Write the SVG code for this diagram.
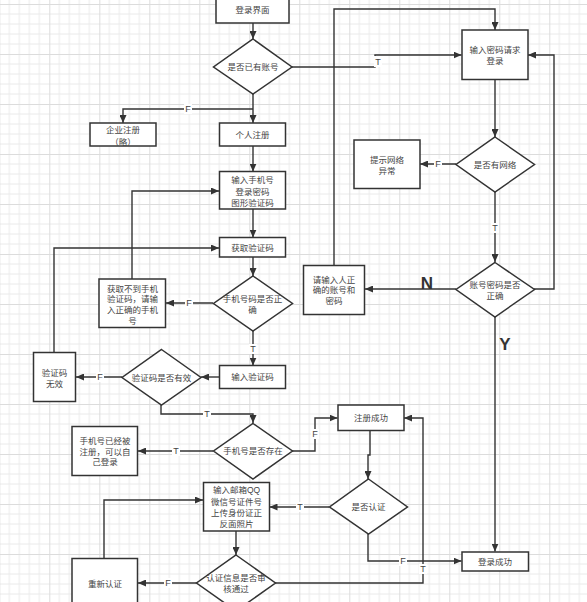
<svg xmlns="http://www.w3.org/2000/svg" width="587" height="602" viewBox="0 0 587 602">
<style>
.n{fill:#fff;stroke:#333;stroke-width:1.5}
.t{font-family:"Liberation Sans","Noto Sans CJK SC",sans-serif;font-size:8.5px;fill:#444;text-anchor:middle;dominant-baseline:central}
.c{fill:none;stroke:#333;stroke-width:1.4}
.a{marker-end:url(#ah)}
.lb{fill:#fff}
.l{font-family:"Liberation Sans","Noto Sans CJK SC",sans-serif;font-size:9px;fill:#444;text-anchor:middle;dominant-baseline:central}
.big{font-family:"Liberation Sans",Arial,sans-serif;font-size:17px;font-weight:bold;fill:#333;text-anchor:middle;dominant-baseline:central}
</style>
<defs>
<pattern id="g" width="50" height="50" patternUnits="userSpaceOnUse" x="-0.7" y="4">
<path d="M10 0V50M20 0V50M30 0V50M40 0V50M0 10H50M0 20H50M0 30H50M0 40H50" stroke="#eaeaea" stroke-width="1" fill="none"/>
<path d="M0.5 0V50M0 0.5H50" stroke="#dcdcdc" stroke-width="1" fill="none"/>
</pattern>
<marker id="ah" viewBox="0 0 8 7" refX="8" refY="3.5" markerWidth="8" markerHeight="7" markerUnits="userSpaceOnUse" orient="auto">
<path d="M0,0L8,3.5L0,7z" fill="#333"/>
</marker>
</defs>
<rect width="587" height="602" fill="#fff"/>
<rect width="587" height="602" fill="url(#g)"/>
<g id="connectors">
<path class="c a" d="M253 23V39"/>
<path class="c a" d="M253 94V123"/>
<path class="c a" d="M253 109H123V123"/>
<path class="c a" d="M292 67H375V55H461.5"/>
<path class="c a" d="M334 265V9H495V30"/>
<path class="c a" d="M495 79V137"/>
<path class="c a" d="M456 164H420"/>
<path class="c a" d="M495 192V262"/>
<path class="c a" d="M456 289H365"/>
<path class="c a" d="M534 289H554V55H528"/>
<path class="c a" d="M495 317V551.5"/>
<path class="c a" d="M253 146V171.5"/>
<path class="c a" d="M253 209V237.5"/>
<path class="c a" d="M132 279V191H219"/>
<path class="c a" d="M253 257V276"/>
<path class="c a" d="M213 303H166"/>
<path class="c a" d="M253 331V365.5"/>
<path class="c a" d="M54 353V248H219"/>
<path class="c a" d="M219 377H201"/>
<path class="c a" d="M122 377H76"/>
<path class="c a" d="M161 405V414H253V423"/>
<path class="c a" d="M213 451H138"/>
<path class="c a" d="M292 451H315V418H337.5"/>
<path class="c a" d="M370 430V455H368V479"/>
<path class="c a" d="M329 507H269.5"/>
<path class="c a" d="M368 534V561H461.5"/>
<path class="c a" d="M236 531V555"/>
<path class="c a" d="M197 583H138"/>
<path class="c a" d="M275 583H423V418H404"/>
<path class="c a" d="M104 558V500H203"/>
</g>
<g id="n-login-ui"><rect class="n" x="216" y="-10" width="73" height="33"/><text class="t" x="252.5" y="9.5">登录界面</text></g>
<g id="n-has-account"><path class="n" d="M253 39L292 67L253 94L213.5 67Z"/><text class="t" x="253" y="67">是否已有账号</text></g>
<g id="n-corp"><rect class="n" x="90" y="123" width="66" height="23"/><text class="t" x="123" y="129.5">企业注册</text><text class="t" x="123" y="141.5">（略）</text></g>
<g id="n-personal"><rect class="n" x="219.5" y="123" width="66" height="23"/><text class="t" x="252.5" y="135">个人注册</text></g>
<g id="n-input-phone"><rect class="n" x="219.5" y="171.5" width="66" height="37.5"/><text class="t" x="252.5" y="180">输入手机号</text><text class="t" x="252.5" y="191.5">登录密码</text><text class="t" x="252.5" y="203">图形验证码</text></g>
<g id="n-get-code"><rect class="n" x="219.5" y="237.5" width="66" height="19.5"/><text class="t" x="252.5" y="247.5">获取验证码</text></g>
<g id="n-phone-ok"><path class="n" d="M253 276L292.5 303.5L253 331L213.5 303.5Z"/><text class="t" x="252.5" y="299">手机号码是否正</text><text class="t" x="252.5" y="309.5">确</text></g>
<g id="n-no-code"><rect class="n" x="99" y="279" width="66.5" height="48.5"/><text class="t" x="132.5" y="288.5">获取不到手机</text><text class="t" x="132.5" y="299">验证码，请输</text><text class="t" x="132.5" y="310">入正确的手机</text><text class="t" x="132.5" y="320.5">号</text></g>
<g id="n-code-invalid"><rect class="n" x="33.5" y="352.5" width="42" height="49"/><text class="t" x="54.5" y="372.5">验证码</text><text class="t" x="54.5" y="383.5">无效</text></g>
<g id="n-code-valid"><path class="n" d="M161.5 349.5L201 377.5L161.5 405L122 377.5Z"/><text class="t" x="161.5" y="377.5">验证码是否有效</text></g>
<g id="n-input-code"><rect class="n" x="219.5" y="365.5" width="66" height="23"/><text class="t" x="252.5" y="377">输入验证码</text></g>
<g id="n-phone-exists"><path class="n" d="M253 423.5L292.5 451L253 479L213.5 451Z"/><text class="t" x="253" y="451">手机号是否存在</text></g>
<g id="n-phone-registered"><rect class="n" x="72" y="426.5" width="65.5" height="49"/><text class="t" x="105" y="441">手机号已经被</text><text class="t" x="105" y="451.5">注册，可以自</text><text class="t" x="105" y="462">己登录</text></g>
<g id="n-input-info"><rect class="n" x="203.5" y="482.5" width="66" height="48.5"/><text class="t" x="236.5" y="490">输入邮箱QQ</text><text class="t" x="236.5" y="501.5">微信号证件号</text><text class="t" x="236.5" y="512.5">上传身份证正</text><text class="t" x="236.5" y="524">反面照片</text></g>
<g id="n-review"><path class="n" d="M236 555L275.5 583L236 611L196.5 583Z"/><text class="t" x="236" y="577.5">认证信息是否审</text><text class="t" x="236" y="589">核通过</text></g>
<g id="n-reauth"><rect class="n" x="72" y="558.5" width="65.5" height="60"/><text class="t" x="105" y="583.5">重新认证</text></g>
<g id="n-reg-ok"><rect class="n" x="338" y="405" width="66" height="25.5"/><text class="t" x="371" y="417.5">注册成功</text></g>
<g id="n-is-auth"><path class="n" d="M368.5 479L407.5 507L368.5 534L329.5 507Z"/><text class="t" x="368.5" y="507">是否认证</text></g>
<g id="n-login-ok"><rect class="n" x="462" y="552" width="66.5" height="19"/><text class="t" x="495" y="561.5">登录成功</text></g>
<g id="n-pwd-login"><rect class="n" x="462" y="30" width="66" height="49.5"/><text class="t" x="495" y="49.5">输入密码请求</text><text class="t" x="495" y="61">登录</text></g>
<g id="n-network"><path class="n" d="M495 137L534.5 164.5L495 192L456 164.5Z"/><text class="t" x="495" y="164.5">是否有网络</text></g>
<g id="n-net-err"><rect class="n" x="354" y="140" width="66" height="48.5"/><text class="t" x="387" y="159.5">提示网络</text><text class="t" x="387" y="170.5">异常</text></g>
<g id="n-pwd-ok"><path class="n" d="M495 262.5L534.5 289.5L495 317L456 289.5Z"/><text class="t" x="495" y="284.5">账号密码是否</text><text class="t" x="495" y="295.5">正确</text></g>
<g id="n-retry"><rect class="n" x="303.5" y="265.5" width="61" height="49"/><text class="t" x="334" y="279.5">请输入人正</text><text class="t" x="334" y="290">确的账号和</text><text class="t" x="334" y="300.5">密码</text></g>
<g id="labels">
<rect class="lb" x="184" y="104" width="8" height="10"/><text class="l" x="188" y="109">F</text>
<rect class="lb" x="374" y="56" width="8" height="11"/><text class="l" x="378" y="62">T</text>
<rect class="lb" x="434" y="159" width="8" height="10"/><text class="l" x="438" y="164">F</text>
<rect class="lb" x="491" y="223" width="8" height="10"/><text class="l" x="495" y="228">T</text>
<text class="big" x="427" y="283">N</text>
<text class="big" x="505" y="344">Y</text>
<rect class="lb" x="185" y="298" width="8" height="10"/><text class="l" x="189" y="303">F</text>
<rect class="lb" x="249" y="344" width="8" height="10"/><text class="l" x="253" y="349">T</text>
<rect class="lb" x="96" y="372" width="8" height="10"/><text class="l" x="100" y="377">F</text>
<rect class="lb" x="203" y="409" width="8" height="10"/><text class="l" x="207" y="414">T</text>
<rect class="lb" x="172" y="446" width="8" height="10"/><text class="l" x="176" y="451">T</text>
<rect class="lb" x="311" y="429" width="8" height="10"/><text class="l" x="315" y="434">F</text>
<rect class="lb" x="296" y="502" width="8" height="10"/><text class="l" x="300" y="507">T</text>
<rect class="lb" x="399" y="556" width="8" height="10"/><text class="l" x="403" y="561">F</text>
<rect class="lb" x="419" y="564" width="8" height="10"/><text class="l" x="423" y="569">T</text>
<rect class="lb" x="164" y="578" width="8" height="10"/><text class="l" x="168" y="583">F</text>
</g>
</svg>
